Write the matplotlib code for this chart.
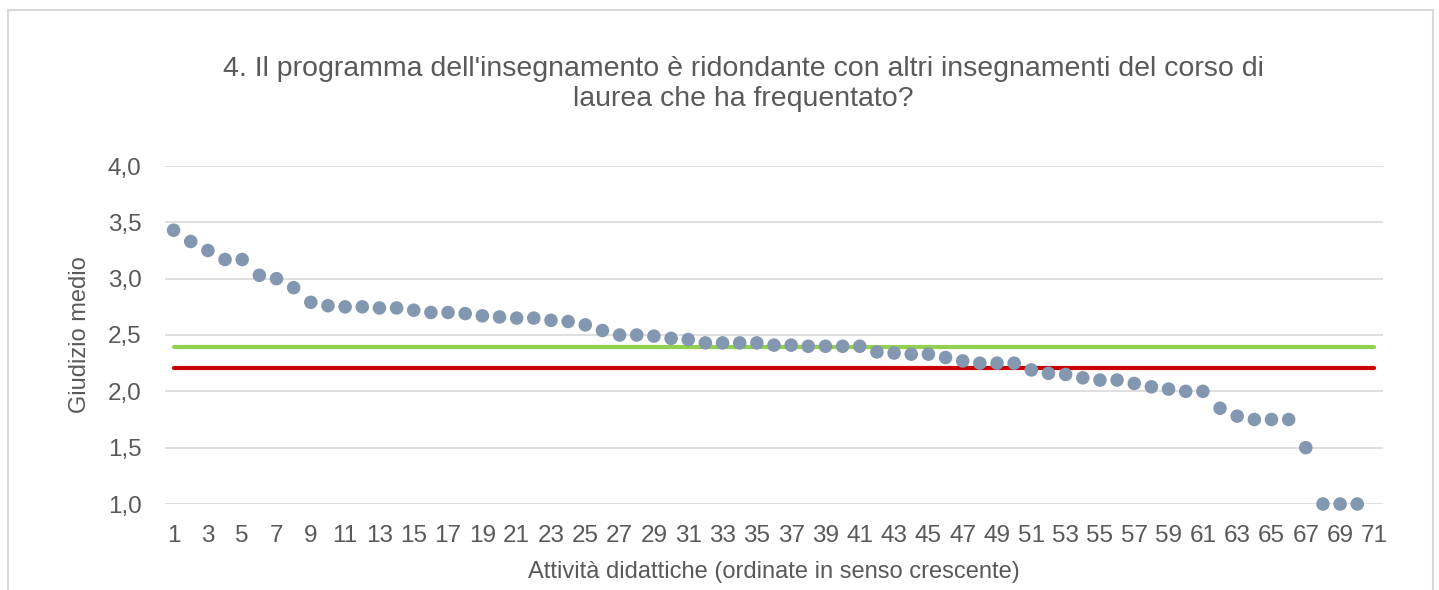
import matplotlib.pyplot as plt
from matplotlib.patches import Rectangle

plt.rcParams['font.family'] = ['Liberation Sans', 'DejaVu Sans']

# Giudizio medio per attività didattica (ordinate)
attivita = list(range(1, 72))
giudizi = [3.43, 3.33, 3.25, 3.17, 3.17, 3.03, 3.00, 2.92, 2.79, 2.76,
           2.75, 2.75, 2.74, 2.74, 2.72, 2.70, 2.70, 2.69, 2.67, 2.66,
           2.65, 2.65, 2.63, 2.62, 2.59, 2.54, 2.50, 2.50, 2.49, 2.47,
           2.46, 2.43, 2.43, 2.43, 2.43, 2.41, 2.41, 2.40, 2.40, 2.40,
           2.40, 2.35, 2.34, 2.33, 2.33, 2.30, 2.27, 2.25, 2.25, 2.25,
           2.19, 2.16, 2.15, 2.12, 2.10, 2.10, 2.07, 2.04, 2.02, 2.00,
           2.00, 1.85, 1.78, 1.75, 1.75, 1.75, 1.50, 1.00, 1.00, 1.00]
media_verde = 2.39
media_rossa = 2.21
y_ticks = [1.0, 1.5, 2.0, 2.5, 3.0, 3.5, 4.0]
y_labels = ['1,0', '1,5', '2,0', '2,5', '3,0', '3,5', '4,0']

testo = '#595959'

fig = plt.figure(figsize=(14.39, 5.9), dpi=100)
ax = fig.add_axes([165 / 1439, 1 - 504 / 590, 1218 / 1439, 338 / 590])

# chart border
fig.patches.append(Rectangle((8 / 1439, -0.05), 1425 / 1439, 1 - 10 / 590 + 0.05,
                             transform=fig.transFigure, fill=False,
                             edgecolor='#d9d9d9', linewidth=1.5))

ax.plot([attivita[0], attivita[-1]], [media_verde, media_verde],
        color='#92d050', linewidth=3, solid_capstyle='round', zorder=2)
ax.plot([attivita[0], attivita[-1]], [media_rossa, media_rossa],
        color='#cc0000', linewidth=3, solid_capstyle='round', zorder=2)
ax.scatter(attivita[:len(giudizi)], giudizi, s=95, color='#8497b0',
           edgecolors='none', zorder=3, clip_on=False)

ax.set_xlim(0.5, 71.5)
ax.set_ylim(1.0, 4.0)
ax.set_yticks(y_ticks)
ax.set_yticklabels(y_labels)
ax.set_xticks(attivita[::2])
ax.set_xticklabels([str(a) for a in attivita[::2]])
ax.tick_params(axis='both', length=0, labelsize=17.5, labelcolor=testo)
ax.tick_params(axis='y', pad=17)
ax.tick_params(axis='x', pad=15)
ax.grid(axis='y', color='#d9d9d9', linewidth=1.2)
ax.set_axisbelow(True)
for s in ax.spines.values():
    s.set_visible(False)

ax.set_ylabel('Giudizio medio', fontsize=17, color=testo)
ax.yaxis.set_label_coords(-0.0605, 0.5)
ax.set_xlabel('Attività didattiche (ordinate in senso crescente)', fontsize=17,
              color=testo, labelpad=10)

fig.text(743 / 1439, 1 - 84 / 590,
         "4. Il programma dell'insegnamento è ridondante con altri insegnamenti del corso di\n"
         "laurea che ha frequentato?", ha='center', va='center', fontsize=20.5,
         color=testo, linespacing=1.15)

fig.savefig('out.png', dpi=100)
